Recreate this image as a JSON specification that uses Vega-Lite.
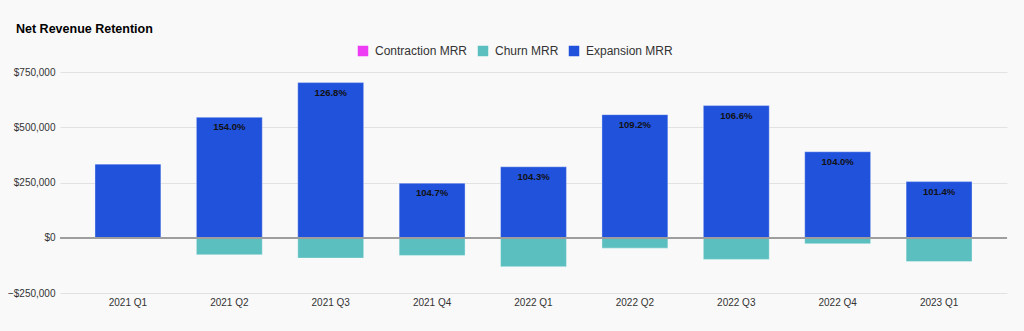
{
  "$schema": "https://vega.github.io/schema/vega-lite/v6.json",
  "autosize": "none",
  "width": 947,
  "height": 221,
  "padding": {"left": 60, "top": 72, "right": 17, "bottom": 38},
  "background": "#f9f9f9",
  "config": {
    "font": "Liberation Sans",
    "view": {"stroke": null}
  },
  "title": {
    "text": "Net Revenue Retention",
    "anchor": "start",
    "frame": "group",
    "dx": -44,
    "offset": 10,
    "fontSize": 12.5,
    "fontWeight": "bold",
    "color": "#000000",
    "font": "Liberation Sans"
  },
  "data": {
    "values": [
      {"quarter": "2021 Q1", "type": "Expansion MRR", "value": 334000, "nrr": null},
      {"quarter": "2021 Q1", "type": "Churn MRR", "value": 0, "nrr": null},
      {"quarter": "2021 Q2", "type": "Expansion MRR", "value": 545000, "nrr": "154.0%"},
      {"quarter": "2021 Q2", "type": "Churn MRR", "value": -77000, "nrr": null},
      {"quarter": "2021 Q3", "type": "Expansion MRR", "value": 702000, "nrr": "126.8%"},
      {"quarter": "2021 Q3", "type": "Churn MRR", "value": -92000, "nrr": null},
      {"quarter": "2021 Q4", "type": "Expansion MRR", "value": 247000, "nrr": "104.7%"},
      {"quarter": "2021 Q4", "type": "Churn MRR", "value": -80000, "nrr": null},
      {"quarter": "2022 Q1", "type": "Expansion MRR", "value": 321000, "nrr": "104.3%"},
      {"quarter": "2022 Q1", "type": "Churn MRR", "value": -131000, "nrr": null},
      {"quarter": "2022 Q2", "type": "Expansion MRR", "value": 557000, "nrr": "109.2%"},
      {"quarter": "2022 Q2", "type": "Churn MRR", "value": -47000, "nrr": null},
      {"quarter": "2022 Q3", "type": "Expansion MRR", "value": 598000, "nrr": "106.6%"},
      {"quarter": "2022 Q3", "type": "Churn MRR", "value": -98000, "nrr": null},
      {"quarter": "2022 Q4", "type": "Expansion MRR", "value": 389000, "nrr": "104.0%"},
      {"quarter": "2022 Q4", "type": "Churn MRR", "value": -27000, "nrr": null},
      {"quarter": "2023 Q1", "type": "Expansion MRR", "value": 254000, "nrr": "101.4%"},
      {"quarter": "2023 Q1", "type": "Churn MRR", "value": -108000, "nrr": null}
    ]
  },
  "layer": [
    {
      "mark": {"type": "bar", "stroke": "#ffffff", "strokeOpacity": 0.35, "strokeWidth": 1},
      "encoding": {
        "x": {
          "field": "quarter",
          "type": "nominal",
          "sort": null,
          "scale": {"paddingInner": 0.35, "paddingOuter": 0.345},
          "axis": {
            "title": null,
            "labelAngle": 0,
            "domain": false,
            "ticks": false,
            "labelPadding": 4,
            "labelFontSize": 10,
            "labelColor": "#333333",
            "labelFont": "Liberation Sans"
          }
        },
        "y": {
          "field": "value",
          "type": "quantitative",
          "stack": "zero",
          "scale": {"domain": [-250000, 750000], "nice": false},
          "axis": {
            "title": null,
            "values": [-250000, 0, 250000, 500000, 750000],
            "format": "$,.0f",
            "domain": false,
            "ticks": false,
            "labelPadding": 5,
            "labelFontSize": 10,
            "labelColor": "#333333",
            "labelFont": "Liberation Sans",
            "gridColor": "#e2e2e2",
            "gridWidth": 1
          }
        },
        "color": {
          "field": "type",
          "type": "nominal",
          "scale": {
            "domain": ["Contraction MRR", "Churn MRR", "Expansion MRR"],
            "range": ["#ee3cf4", "#5bbfc0", "#2152dc"]
          },
          "legend": {
            "title": null,
            "orient": "none",
            "direction": "horizontal",
            "legendX": 297,
            "legendY": -27,
            "symbolType": "square",
            "symbolSize": 110,
            "symbolStrokeWidth": 0,
            "labelFontSize": 12,
            "labelColor": "#333333",
            "labelFont": "Liberation Sans",
            "columnPadding": 9,
            "labelOffset": 6
          }
        }
      }
    },
    {
      "mark": {"type": "rule", "color": "#9e9e9e", "strokeWidth": 1.5},
      "encoding": {"y": {"datum": 0, "type": "quantitative"}}
    },
    {
      "transform": [{"filter": "datum.nrr != null"}],
      "mark": {
        "type": "text",
        "baseline": "top",
        "dy": 5,
        "fontSize": 9.5,
        "fontWeight": "bold",
        "color": "#111111",
        "font": "Liberation Sans"
      },
      "encoding": {
        "x": {"field": "quarter", "type": "nominal", "sort": null},
        "y": {"field": "value", "type": "quantitative"},
        "text": {"field": "nrr", "type": "nominal"}
      }
    }
  ]
}
